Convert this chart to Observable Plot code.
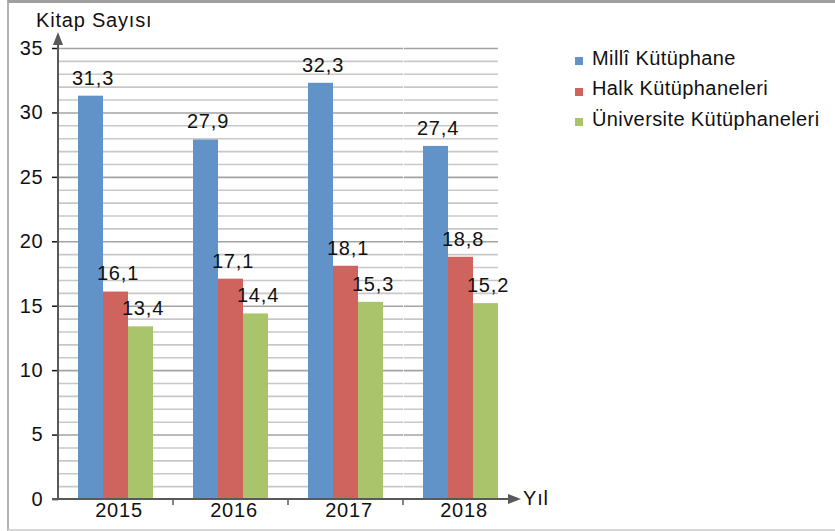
<!DOCTYPE html>
<html><head><meta charset="utf-8">
<script src="https://cdn.jsdelivr.net/npm/d3@7"></script>
<script src="https://cdn.jsdelivr.net/npm/@observablehq/plot@0.6"></script>
<style>
body{margin:0;background:#fff;font-family:"Liberation Sans",Arial,Helvetica,sans-serif;}
#wrap{position:relative;width:835px;height:531px;overflow:hidden;background:#fff;}
#border{position:absolute;left:7px;top:0;width:830px;height:531px;border-top:3px solid #a0a0a0;border-left:2px solid #b4b4b4;border-bottom:2px solid #d8d8d8;box-sizing:border-box;pointer-events:none}
#chart{position:absolute;left:0;top:0}
#legend{position:absolute;left:575px;top:43px;}
.row{height:30.6px;display:flex;align-items:center;font-size:20px;letter-spacing:0.4px;color:#111;white-space:nowrap}
.sw{width:8px;height:8px;margin-right:9px;position:relative;top:3px}
#chart svg text{letter-spacing:0.8px}
#chart g[aria-label="y-axis tick"]{stroke:#595959;stroke-width:1.5}
</style></head>
<body>
<div id="wrap"><div id="chart"></div><div id="legend"></div><div id="border"></div></div>
<script>
const years = ["2015", "2016", "2017", "2018"];
const seriesNames = ["Millî Kütüphane", "Halk Kütüphaneleri", "Üniversite Kütüphaneleri"];
const milli = [31.3, 27.9, 32.3, 27.4];
const halk = [16.1, 17.1, 18.1, 18.8];
const universite = [13.4, 14.4, 15.3, 15.2];
const colors = ["#6193C9", "#CF645E", "#A9C46B"];
const yTicks = [0, 5, 10, 15, 20, 25, 30, 35];
const yAxisTitle = "Kitap Sayısı";
const xAxisTitle = "Yıl";

const seriesValues = [milli, halk, universite];
const data = years.flatMap((yr, i) => seriesNames.map((s, j) => ({year: yr, series: s, value: seriesValues[j][i]})));
const fmt = v => v.toFixed(1).replace(".", ",");
const gridValues = d3.range(1, 36);
const lastYear = years[years.length - 1];
const firstSeries = seriesNames[0];
const lastSeries = seriesNames[seriesNames.length - 1];
const grid = years.flatMap(yr => gridValues.map(v => ({year: yr, v, major: v % 5 === 0})));
const gridFull = grid.filter(d => d.year !== lastYear);
const gridLast = grid.filter(d => d.year === lastYear);

const W = 835, H = 531, ML = 58, MR = 317, MT = 48, MB = 32;
const PAD_OUTER = 0.755;
const facetW = (W - ML - MR) / years.length;
const innerStep = facetW / (seriesNames.length + 2 * PAD_OUTER);
const outerPx = innerStep * PAD_OUTER;
const font = "'Liberation Sans', Arial, Helvetica, sans-serif";
const gridStroke = d => d.major ? "#a3a3a3" : "#c8c8c8";

const plot = Plot.plot({
  width: W, height: H,
  marginLeft: ML, marginRight: MR, marginTop: MT, marginBottom: MB,
  style: {fontSize: "20px", fontFamily: font, color: "#111", background: "transparent", overflow: "visible"},
  fx: {domain: years, padding: 0, axis: null},
  x: {domain: seriesNames, paddingInner: 0, paddingOuter: PAD_OUTER, axis: null},
  y: {domain: [0, 35], ticks: yTicks, tickSize: 6, tickPadding: 9, label: null, tickFormat: d => String(d)},
  color: {domain: seriesNames, range: colors},
  marks: [
    Plot.ruleY(gridFull, {fx: "year", y: "v", stroke: gridStroke, strokeWidth: 1.6}),
    Plot.ruleY(gridLast, {fx: "year", y: "v", x1: () => firstSeries, x2: () => lastSeries, insetLeft: -outerPx, stroke: gridStroke, strokeWidth: 1.6}),
    Plot.barY(data, {fx: "year", x: "series", y: "value", fill: "series"}),
    Plot.text(data, {fx: "year", x: "series", y: "value", text: d => fmt(d.value), dy: -18, dx: 2}),
    Plot.text(years, {fx: d => d, text: d => d, frameAnchor: "bottom", dy: 17, dx: 3})
  ]
});
document.getElementById("chart").appendChild(plot);

// axis lines with arrows
const svg = d3.select(plot);
const ys = plot.scale("y");
const y0 = ys.apply(0), yTop = ys.apply(35);
const xEnd = W - MR;
const g = svg.append("g").attr("stroke", "#595959").attr("fill", "#595959");
g.append("line").attr("x1", ML).attr("x2", ML).attr("y1", y0 + 1).attr("y2", yTop - 6).attr("stroke-width", 2);
g.append("path").attr("stroke", "none").attr("d", `M${ML},${yTop - 16}L${ML - 5},${yTop - 3}L${ML + 5},${yTop - 3}Z`);
g.append("line").attr("x1", ML - 6).attr("x2", xEnd - 8).attr("y1", y0).attr("y2", y0).attr("stroke-width", 2);
g.append("path").attr("stroke", "none").attr("d", `M${xEnd + 3},${y0}L${xEnd - 10},${y0 - 5}L${xEnd - 10},${y0 + 5}Z`);
for (let i = 1; i < years.length; i++) {
  g.append("line").attr("x1", ML + i * facetW).attr("x2", ML + i * facetW).attr("y1", y0).attr("y2", y0 + 6).attr("stroke-width", 1.5);
}
svg.append("text").attr("x", 36).attr("y", 27).attr("text-anchor", "start").attr("fill", "#111").text(yAxisTitle);
svg.append("text").attr("x", xEnd + 5).attr("y", y0 + 6).attr("text-anchor", "start").attr("fill", "#111").text(xAxisTitle);

// legend
const legend = d3.select("#legend");
seriesNames.forEach((s, i) => {
  const row = legend.append("div").attr("class", "row");
  row.append("div").attr("class", "sw").style("background", colors[i]);
  row.append("span").text(s);
});
</script>
</body></html>
